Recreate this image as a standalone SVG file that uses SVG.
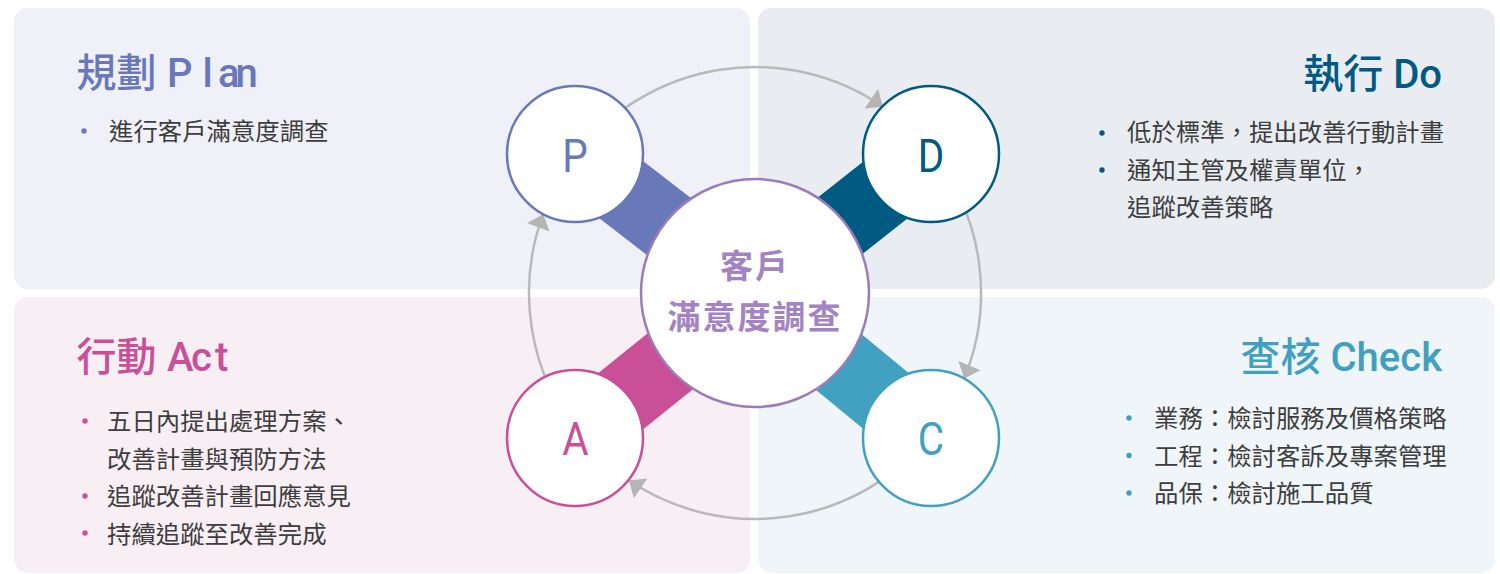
<svg xmlns="http://www.w3.org/2000/svg" width="1500" height="574" viewBox="0 0 1500 574">
  <defs>
    <style>
      .title { font-family: Roboto, "Noto Sans CJK TC", sans-serif; font-size: 40px; font-weight: 500; }
      .body { font-family: "Noto Sans CJK TC", sans-serif; font-size: 24.4px; fill: #3d3d3d; }
      .letter { font-family: Roboto, "Noto Sans CJK TC", sans-serif; font-size: 47px; text-anchor: middle; }
      .arc { fill: none; stroke: #b9b9b9; stroke-width: 2.5; marker-end: url(#arr); }
      .bar { stroke-width: 72; stroke-linecap: butt; }
      .node { fill: #ffffff; stroke-width: 2.5; }
      .center-text { font-family: "Noto Sans CJK TC", sans-serif; font-size: 33px; font-weight: 700; fill: #a383c3; text-anchor: middle; letter-spacing: 2px; }
    </style>
    <marker id="arr" markerUnits="userSpaceOnUse" markerWidth="16" markerHeight="26" viewBox="0 0 16 26" refX="15" refY="13" orient="auto">
      <path d="M1,1 L15,13 L1,25 z" fill="#b5b5b5"/>
    </marker>
  </defs>

  <rect width="1500" height="574" fill="#ffffff"/>

  <g id="panels">
    <rect x="14" y="8" width="736" height="281" rx="14" fill="#eff0f8"/>
    <rect x="758" y="8" width="737" height="281" rx="14" fill="#e9edf2"/>
    <rect x="14" y="297" width="736" height="276" rx="14" fill="#f8eff5"/>
    <rect x="758" y="297" width="737" height="276" rx="14" fill="#f0f5fa"/>
  </g>

  <g id="plan-panel">
    <text class="title" fill="#6878b8" x="76.5 116.5 156.5 167 202.5 218 235.5" y="87">規劃 Plan</text>
    <circle cx="84" cy="131" r="2.7" fill="#6878b8"/>
    <text class="body" x="109" y="140">進行客戶滿意度調查</text>
  </g>

  <g id="do-panel">
    <text class="title" fill="#005a82" x="1442" y="88" text-anchor="end">執行 Do</text>
    <circle cx="1102" cy="133" r="2.7" fill="#005a82"/>
    <circle cx="1102" cy="170" r="2.7" fill="#005a82"/>
    <text class="body" x="1127" y="141">低於標準，提出改善行動計畫</text>
    <text class="body" x="1127" y="178.5">通知主管及權責單位，</text>
    <text class="body" x="1127" y="216">追蹤改善策略</text>
  </g>

  <g id="act-panel">
    <text class="title" fill="#c94f96" x="76.5 116.5 156.5 167 191 215" y="371">行動 Act</text>
    <circle cx="85" cy="421" r="2.7" fill="#c94f96"/>
    <circle cx="85" cy="496" r="2.7" fill="#c94f96"/>
    <circle cx="85" cy="533" r="2.7" fill="#c94f96"/>
    <text class="body" x="107" y="430">五日內提出處理方案、</text>
    <text class="body" x="107" y="467.5">改善計畫與預防方法</text>
    <text class="body" x="107" y="505">追蹤改善計畫回應意見</text>
    <text class="body" x="107" y="542.5">持續追蹤至改善完成</text>
  </g>

  <g id="check-panel">
    <text class="title" fill="#40a0c0" x="1442" y="371" text-anchor="end">查核 Check</text>
    <circle cx="1129" cy="418" r="2.7" fill="#40a0c0"/>
    <circle cx="1129" cy="455.5" r="2.7" fill="#40a0c0"/>
    <circle cx="1129" cy="493" r="2.7" fill="#40a0c0"/>
    <text class="body" x="1154" y="427">業務：檢討服務及價格策略</text>
    <text class="body" x="1154" y="464.5">工程：檢討客訴及專案管理</text>
    <text class="body" x="1154" y="502">品保：檢討施工品質</text>
  </g>

  <g id="connectors">
    <path class="arc" d="M576.1,154.9 A226,226 0 0 1 882.85,106.64"/>
    <path class="arc" d="M932.4,152.9 A226,226 0 0 1 964.19,378.54"/>
    <path class="arc" d="M929.4,436.7 A226,226 0 0 1 628.96,480.58"/>
    <path class="arc" d="M578.95,434.7 A226,226 0 0 1 543.22,214.15"/>
  </g>

  <g id="bars">
    <line class="bar" x1="575" y1="154" x2="755" y2="293" stroke="#6878b8"/>
    <line class="bar" x1="931" y1="154" x2="755" y2="293" stroke="#005a82"/>
    <line class="bar" x1="575" y1="438" x2="755" y2="293" stroke="#c94f96"/>
    <line class="bar" x1="931" y1="438" x2="755" y2="293" stroke="#42a0c0"/>
  </g>

  <g id="center">
    <circle cx="755" cy="293" r="114" fill="#ffffff" stroke="#9b7cba" stroke-width="2.5"/>
    <text class="center-text" x="755" y="278">客戶</text>
    <text class="center-text" x="755" y="329">滿意度調查</text>
  </g>

  <g id="node-P">
    <circle class="node" cx="575" cy="154" r="68" stroke="#6878b8"/>
    <text class="letter" transform="translate(575,171.5) scale(0.86,1)" fill="#6878b8">P</text>
  </g>
  <g id="node-D">
    <circle class="node" cx="931" cy="154" r="68" stroke="#005a82"/>
    <text class="letter" transform="translate(931,171.5) scale(0.86,1)" fill="#005a82">D</text>
  </g>
  <g id="node-A">
    <circle class="node" cx="575" cy="438" r="68" stroke="#c94f96"/>
    <text class="letter" transform="translate(575.5,455) scale(0.86,1)" fill="#c94f96">A</text>
  </g>
  <g id="node-C">
    <circle class="node" cx="931" cy="438" r="68" stroke="#42a0c0"/>
    <text class="letter" transform="translate(931,454.5) scale(0.86,1)" fill="#42a0c0">C</text>
  </g>
</svg>
